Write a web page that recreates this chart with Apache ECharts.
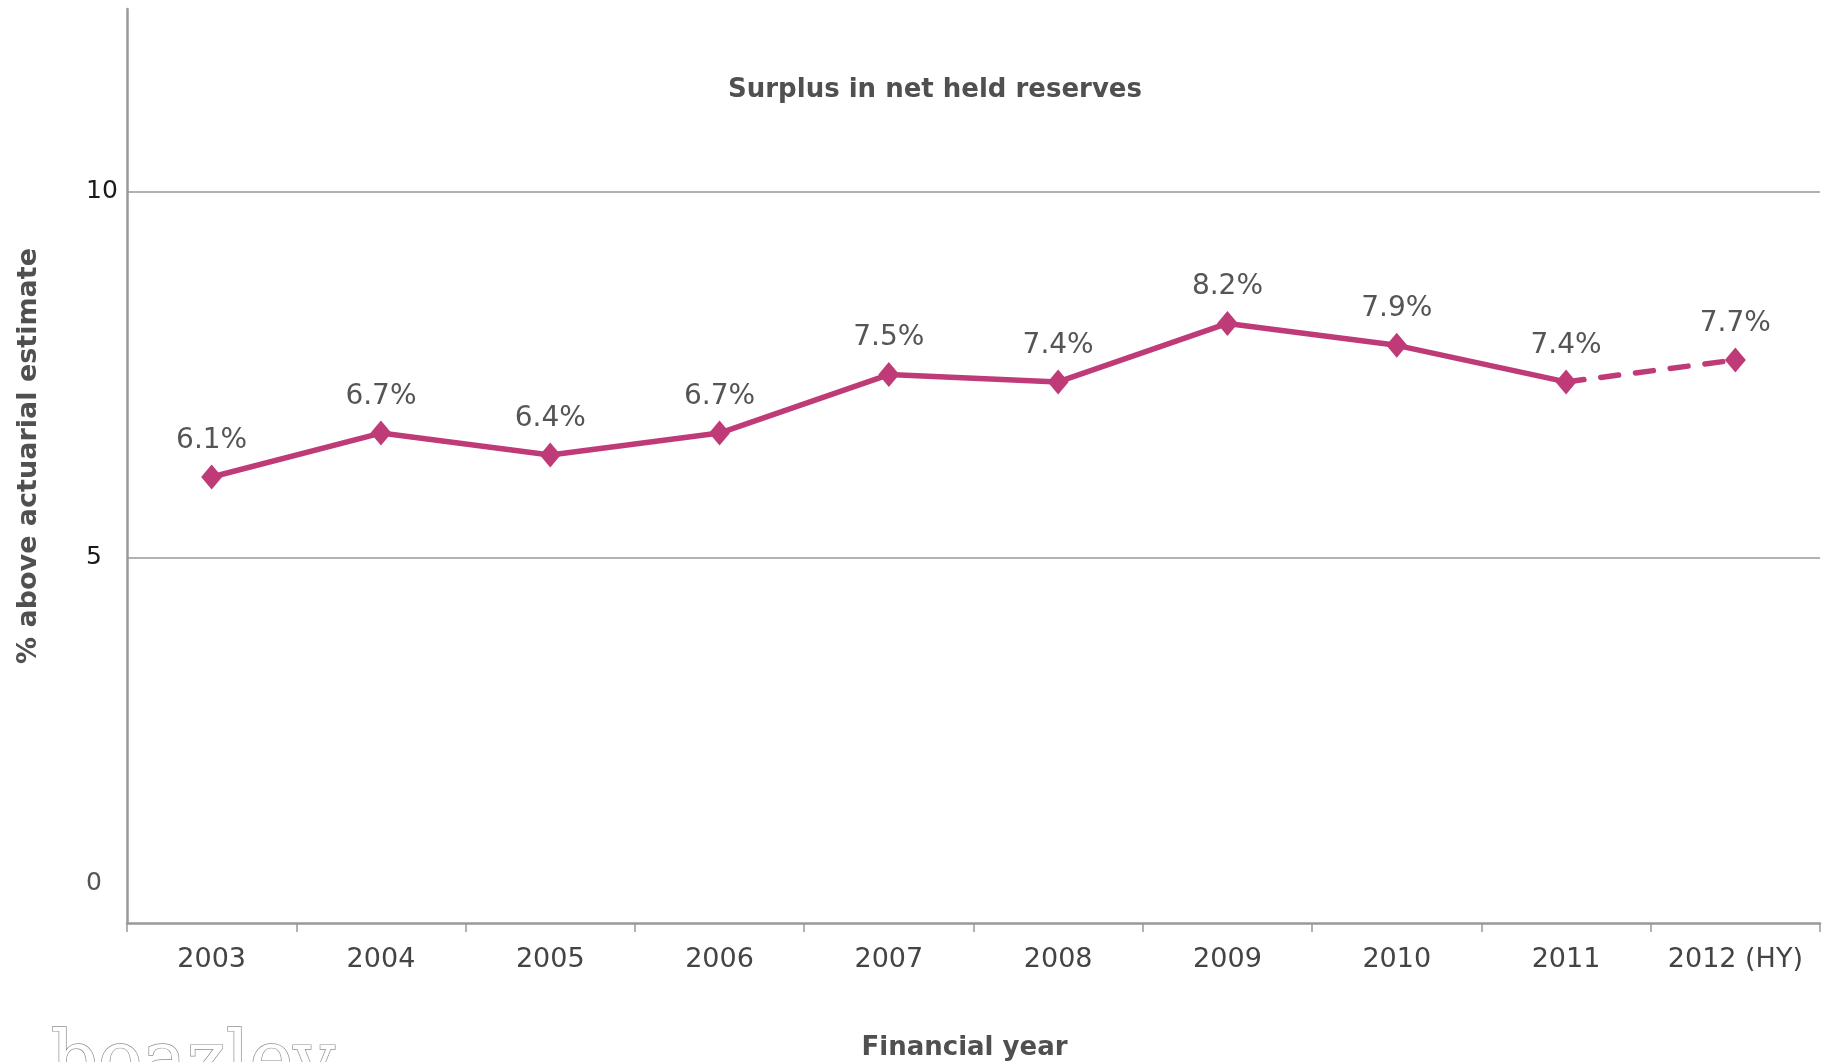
<!DOCTYPE html>
<html>
<head>
<meta charset="utf-8">
<script src="https://cdn.jsdelivr.net/npm/echarts@6/dist/echarts.min.js"></script>
<style>
html,body{margin:0;padding:0;background:#fff;}
#chart{width:1824px;height:1062px;}
</style>
</head>
<body>
<div id="chart"></div>
<script>
// ---- data ----
const categories = ['2003','2004','2005','2006','2007','2008','2009','2010','2011','2012 (HY)'];
const surplus = [6.1, 6.7, 6.4, 6.7, 7.5, 7.4, 8.2, 7.9, 7.4, 7.7];
const projectedFrom = 8; // index of last actual year (2011); segment to 2012 (HY) is dashed
const yTicks = [0, 5, 10];
const titleText = 'Surplus in net held reserves';
const yName = '% above actuarial estimate';
const xName = 'Financial year';

const LINE = '#BF3B78';

const actualData = surplus.map((v, i) => i <= projectedFrom ? v : null);
const projData = surplus.map((v, i) => {
  if (i < projectedFrom) return null;
  if (i === projectedFrom) return {value: v, symbol: 'none', label: {show: false}};
  return v;
});

const chart = echarts.init(document.getElementById('chart'));
const labelCfg = {
  show: true, position: 'top', distance: 10,
  fontFamily: 'DejaVu Sans', fontSize: 28, color: '#555555',
  formatter: p => p.value.toFixed(1) + '%'
};
chart.setOption({
  animation: false,
  backgroundColor: '#ffffff',
  title: {
    text: titleText, left: 930, top: 72, textAlign: 'center',
    textStyle: {fontFamily: 'DejaVu Sans', fontWeight: 'bold', fontSize: 26, color: '#505050'}
  },
  grid: {left: 127, right: 4, top: 9, bottom: 139, containLabel: false, outerBoundsMode: 'none'},
  xAxis: {
    type: 'category', data: categories, boundaryGap: true,
    name: xName, nameLocation: 'middle', nameGap: 112,
    nameTextStyle: {fontFamily: 'DejaVu Sans', fontWeight: 'bold', fontSize: 26, color: '#505050', padding: [0, 18, 0, 0]},
    axisLine: {show: true, lineStyle: {color: '#999999', width: 2.5}},
    axisTick: {show: true, alignWithLabel: false, interval: 0, length: 9, lineStyle: {color: '#999999', width: 1.5}},
    axisLabel: {fontFamily: 'DejaVu Sans', fontSize: 27, color: '#444444', margin: 23, interval: 0, hideOverlap: false},
    splitLine: {show: false}
  },
  yAxis: {
    type: 'value', min: 0, max: 12.5, interval: 5,
    name: yName, nameLocation: 'middle', nameGap: 85, nameRotate: 90,
    nameTextStyle: {fontFamily: 'DejaVu Sans', fontWeight: 'bold', fontSize: 27, color: '#505050', padding: [0, 0, 0, 20]},
    axisLine: {show: true, lineStyle: {color: '#999999', width: 2.5}},
    axisTick: {show: false},
    axisLabel: {
      fontFamily: 'DejaVu Sans', fontSize: 25, color: '#1a1a1a', margin: 41, align: 'left',
      showMaxLabel: false,
      formatter: v => yTicks.indexOf(v) < 0 ? '' : (v === 0 ? '{z|0}' : String(v)),
      rich: {z: {fontFamily: 'DejaVu Sans', fontSize: 25, color: '#555555', padding: [0, 0, 80, 0]}}
    },
    splitLine: {show: true, showMinLine: false, showMaxLine: false, lineStyle: {color: '#999999', width: 1.5}}
  },
  graphic: [{
    type: 'text', left: 50, top: 1027, silent: true,
    style: {text: 'boazlev', font: '74px "DejaVu Serif"', fill: '#ffffff', stroke: '#8f8f8f', lineWidth: 1.4}
  }],
  series: [
    {
      type: 'line', data: actualData, symbol: 'diamond', symbolSize: [21, 25],
      lineStyle: {color: LINE, width: 5.5}, itemStyle: {color: LINE},
      label: labelCfg, connectNulls: false
    },
    {
      type: 'line', data: projData, symbol: 'diamond', symbolSize: [21, 25],
      lineStyle: {color: LINE, width: 5.5, type: [18, 17], cap: 'round'}, itemStyle: {color: LINE},
      label: labelCfg, connectNulls: false
    }
  ]
});
</script>
</body>
</html>
